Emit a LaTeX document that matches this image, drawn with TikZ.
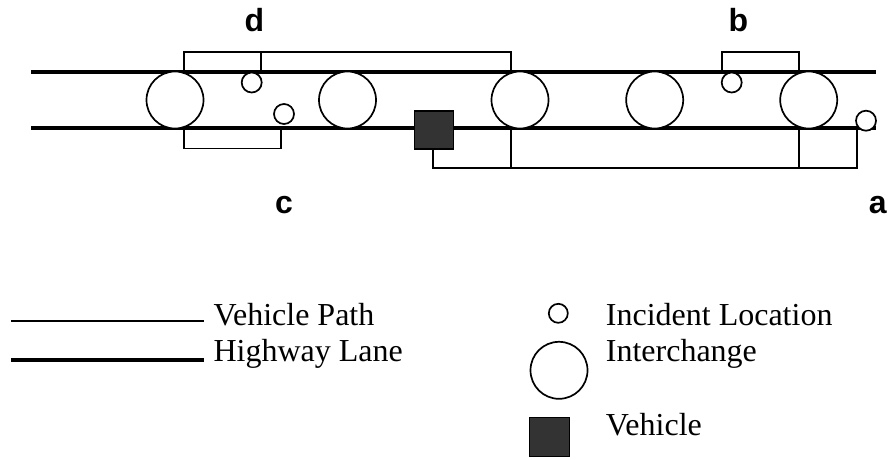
\documentclass[tikz,border=0pt]{standalone}
\usepackage{fontspec}
\setmainfont{Liberation Serif}
\newfontfamily\lblfont{Liberation Sans}
\begin{document}
\begin{tikzpicture}[x=1pt,y=-1pt,
  lane/.style={line width=4pt},
  vpath/.style={line width=1.7pt},
  interchange/.style={circle,draw,line width=1.7pt,fill=white,minimum size=57pt,inner sep=0pt},
  incident/.style={circle,draw,line width=1.7pt,fill=white,minimum size=20pt,inner sep=0pt},
  vehicle/.style={rectangle,draw,line width=1.2pt,fill=black!80,minimum width=39pt,minimum height=38pt,inner sep=0pt},
  lbl/.style={font=\lblfont\bfseries\fontsize{32}{32}\selectfont,anchor=base,inner sep=0pt},
  legtext/.style={font=\fontsize{32}{32}\selectfont,anchor=base west,inner sep=0pt}]
\useasboundingbox (0,0) rectangle (890,459);
% lanes
\coordinate (laneTL) at (31,72);
\coordinate (laneTR) at (875.7,72);
\coordinate (laneBL) at (31,128);
\coordinate (laneBR) at (875.7,128);
\draw[lane] (laneTL) -- (laneTR);
\draw[lane] (laneBL) -- (laneBR);
% path coordinates
\coordinate (d1) at (184,72);
\coordinate (d2) at (261,72);
\coordinate (d3) at (510.7,72);
\coordinate (dtop) at (184,52.3);
\coordinate (c1) at (184,128);
\coordinate (c2) at (280.7,128);
\coordinate (cbot) at (184,148.5);
\coordinate (b1) at (721.7,72);
\coordinate (b2) at (799,72);
\coordinate (btop) at (721.7,52.3);
\coordinate (a1) at (510.7,128);
\coordinate (a2) at (799,128);
\coordinate (a3) at (856.7,128);
\coordinate (abot) at (433.3,168.3);
% vehicle paths
\draw[vpath] (d1) |- (dtop -| d3) -- (d3);
\draw[vpath] (d2) -- (d2 |- dtop);
\draw[vpath] (c1) |- (cbot -| c2) -- (c2);
\draw[vpath] (b1) |- (btop -| b2) -- (b2);
\draw[vpath] (abot) ++(0,-20) -- (abot) -| (a3);
\draw[vpath] (a1) -- (a1 |- abot);
\draw[vpath] (a2) -- (a2 |- abot);
% interchanges
\node[interchange] (i1) at (175,100) {};
\node[interchange] (i2) at (347.5,100) {};
\node[interchange] (i3) at (520,100) {};
\node[interchange] (i4) at (654.7,100) {};
\node[interchange] (i5) at (808.7,100) {};
% incidents
\node[incident] (incd) at (251.7,82.5) {};
\node[incident] (incc) at (284,114) {};
\node[incident] (incb) at (731.7,82.5) {};
\node[incident] (inca) at (866,120.7) {};
% vehicle
\node[vehicle] (veh) at (434,130) {};
% labels
\node[lbl] (ld) at (254.5,31) {d};
\node[lbl] (lb) at (738.5,31.5) {b};
\node[lbl] (lc) at (284,213) {c};
\node[lbl] (la) at (877.8,213.5) {a};
% legend
\coordinate (lp1) at (11,321);
\coordinate (lp2) at (204,321);
\coordinate (lh1) at (11,360);
\coordinate (lh2) at (204,360);
\draw[line width=1.7pt] (lp1) -- (lp2);
\draw[lane] (lh1) -- (lh2);
\node[legtext] (tvp) at (213.3,325) {Vehicle Path};
\node[legtext] (thl) at (213.3,361.5) {Highway Lane};
\node[incident,minimum size=19pt] (leginc) at (558.3,313.3) {};
\node[interchange] (legint) at (559,370.3) {};
\node[vehicle,minimum width=40pt,minimum height=39pt] (legveh) at (549.2,437) {};
\node[legtext] (til) at (605.7,325) {Incident Location};
\node[legtext] (tic) at (605.7,361.5) {Interchange};
\node[legtext] (tve) at (605.7,435) {Vehicle};
\end{tikzpicture}
\end{document}
